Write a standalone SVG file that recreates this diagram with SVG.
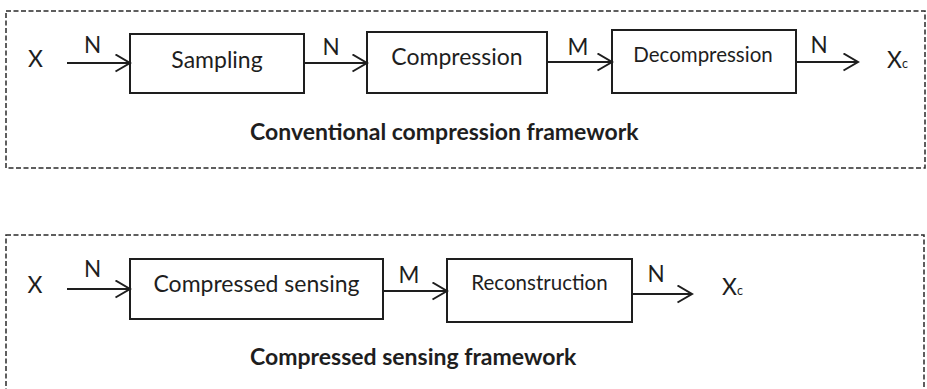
<svg xmlns="http://www.w3.org/2000/svg" width="927" height="389" viewBox="0 0 927 389">
<style>
.frame{fill:none;stroke:#2a2a2a;stroke-width:1.5;stroke-dasharray:5 2.5}
.box{fill:#fff;stroke:#1e1e1e;stroke-width:2}
.con{fill:none;stroke:#1e1e1e;stroke-width:2;marker-end:url(#arr)}
text{font-family:Lato,"Liberation Sans",sans-serif;fill:#1e1e1e}
.t24{font-size:23px}
.t22{font-size:20.5px}
.lbl{font-size:22.5px;text-anchor:middle}
.title{font-size:23px;font-weight:bold}
.c{text-anchor:middle}
</style>
<defs>
<marker id="arr" markerUnits="userSpaceOnUse" markerWidth="18" markerHeight="20" refX="15" refY="9" orient="auto">
<path d="M0.5,0.5 L15,9 L0.5,17.5" fill="none" stroke="#1e1e1e" stroke-width="2"/>
</marker>
</defs>
<g id="frame-top">
<rect class="frame" x="6" y="11" width="919" height="157"/>
<text class="title" x="250" y="140">Conventional compression framework</text>
</g>
<g id="frame-bottom">
<rect class="frame" x="6" y="235" width="918" height="170"/>
<text class="title" x="250" y="365">Compressed sensing framework</text>
</g>
<g id="x-in-top"><text class="t24 c" x="35.5" y="67">X</text></g>
<g id="sampling"><rect class="box" x="130" y="34" width="174" height="59"/><text class="t24 c" x="217" y="68">Sampling</text></g>
<g id="compression"><rect class="box" x="367" y="32" width="180" height="61"/><text class="t24 c" x="457" y="65">Compression</text></g>
<g id="decompression"><rect class="box" x="612" y="30" width="184" height="63"/><text class="t22 c" x="703" y="62">Decompression</text></g>
<g id="xc-top"><text class="t24" x="887" y="68">X<tspan font-size="12.5">c</tspan></text></g>
<g id="x-in-bottom"><text class="t24 c" x="35" y="293">X</text></g>
<g id="compressed-sensing"><rect class="box" x="130" y="259" width="253" height="60"/><text class="t24 c" x="256.5" y="292">Compressed sensing</text></g>
<g id="reconstruction"><rect class="box" x="447" y="259" width="185" height="63"/><text class="t22 c" x="539.5" y="290">Reconstruction</text></g>
<g id="xc-bottom"><text class="t24" x="722" y="295">X<tspan font-size="12.5">c</tspan></text></g>
<g id="connectors">
<line class="con" x1="67" y1="63" x2="130" y2="63"/>
<line class="con" x1="304" y1="63" x2="367" y2="63"/>
<line class="con" x1="547" y1="62" x2="612" y2="62"/>
<line class="con" x1="796" y1="62" x2="858" y2="62"/>
<line class="con" x1="67" y1="289" x2="130" y2="289"/>
<line class="con" x1="383" y1="291" x2="447" y2="291"/>
<line class="con" x1="632" y1="294" x2="692" y2="294"/>
<text class="lbl" x="92.5" y="53">N</text>
<text class="lbl" x="331" y="55">N</text>
<text class="lbl" x="578" y="55">M</text>
<text class="lbl" x="819" y="53">N</text>
<text class="lbl" x="92.5" y="277">N</text>
<text class="lbl" x="409" y="283">M</text>
<text class="lbl" x="656" y="282">N</text>
</g>
</svg>
